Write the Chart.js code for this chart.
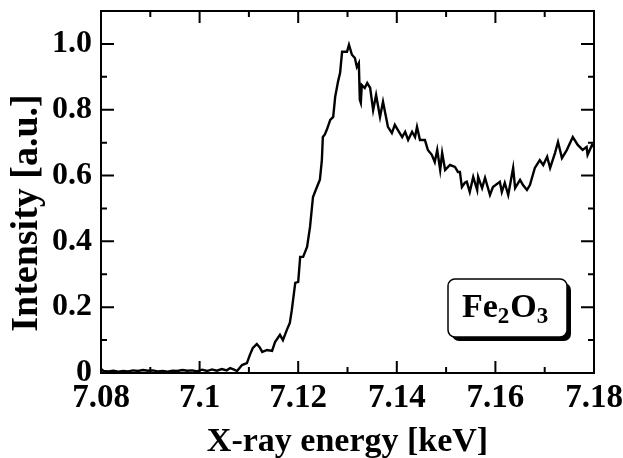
<!DOCTYPE html>
<html><head><meta charset="utf-8">
<script src="https://cdn.jsdelivr.net/npm/chart.js@4.4.1/dist/chart.umd.min.js"></script>
<style>html,body{margin:0;padding:0;background:#fff;}</style>
</head><body>
<canvas id="c" width="623" height="458"></canvas>
<script>
// ---- data ----
const energies = [
7.0800,7.0805,7.0815,7.0825,7.0835,7.0845,7.0855,7.0865,7.0875,7.0885,7.0895,7.0905,7.0915,7.0925,7.0935,7.0945,7.0955,7.0965,7.0975,7.0985,7.0995,
7.1005,7.1015,7.1025,7.1035,7.1045,7.1055,7.1062,7.1070,7.1076,7.1086,7.1096,7.1102,7.1108,7.1116,7.1122,7.1127,7.1137,7.1147,7.1153,7.1163,7.1169,
7.1177,7.1183,7.1187,7.1194,7.1200,7.1204,7.1210,7.1218,7.1224,7.1230,7.1238,7.1244,7.1248,7.1250,7.1254,7.1258,7.1265,7.1271,7.1275,7.1281,7.1285,
7.1289,7.1295,7.1299,7.1303,7.1309,7.1315,7.1319,7.1323,7.1325,7.1327,7.1329,7.1335,7.1340,7.1346,7.1352,7.1358,7.1366,7.1372,7.1382,7.1390,7.1396,
7.1402,7.1411,7.1417,7.1423,7.1431,7.1437,7.1441,7.1447,7.1457,7.1463,7.1471,7.1477,7.1482,7.1488,7.1492,7.1498,7.1508,7.1518,7.1524,7.1528,7.1532,
7.1538,7.1542,7.1548,7.1555,7.1563,7.1565,7.1573,7.1579,7.1589,7.1595,7.1609,7.1613,7.1619,7.1626,7.1636,7.1640,7.1650,7.1656,7.1664,7.1670,7.1680,
7.1690,7.1697,7.1705,7.1711,7.1721,7.1727,7.1735,7.1745,7.1757,7.1767,7.1777,7.1785,7.1787,7.1796,7.1800
];
const intensities = [
0.012,0.006,0.005,0.007,0.004,0.006,0.005,0.008,0.006,0.009,0.007,0.008,0.005,0.006,0.004,0.007,0.006,0.009,0.007,0.008,0.005,
0.010,0.006,0.011,0.007,0.012,0.008,0.015,0.010,0.006,0.024,0.030,0.055,0.076,0.088,0.078,0.064,0.070,0.067,0.094,0.116,0.100,
0.131,0.152,0.191,0.274,0.277,0.353,0.353,0.383,0.444,0.535,0.565,0.587,0.647,0.717,0.725,0.739,0.769,0.778,0.839,0.887,0.912,
0.976,0.976,0.976,0.997,0.967,0.957,0.930,0.942,0.830,0.821,0.875,0.866,0.881,0.866,0.799,0.845,0.778,0.824,0.748,0.729,0.754,
0.739,0.717,0.733,0.708,0.733,0.717,0.748,0.708,0.708,0.678,0.663,0.641,0.678,0.617,0.669,0.617,0.632,0.626,0.611,0.611,0.565,
0.578,0.581,0.550,0.596,0.556,0.596,0.562,0.593,0.541,0.565,0.581,0.550,0.578,0.541,0.623,0.562,0.587,0.571,0.556,0.571,0.623,
0.647,0.632,0.657,0.623,0.669,0.702,0.653,0.678,0.717,0.693,0.678,0.687,0.663,0.693,0.687
];
const xTickValues = [7.08, 7.10, 7.12, 7.14, 7.16, 7.18];
const xTickLabels = ['7.08', '7.1', '7.12', '7.14', '7.16', '7.18'];
const xMinorValues = [7.09, 7.11, 7.13, 7.15, 7.17];
const yTickValues = [0, 0.2, 0.4, 0.6, 0.8, 1.0];
const yTickLabels = ['0', '0.2', '0.4', '0.6', '0.8', '1.0'];
const yMinorValues = [0.1, 0.3, 0.5, 0.7, 0.9];
const xTitle = 'X-ray energy [keV]';
const yTitle = 'Intensity [a.u.]';
const sampleParts = [['Fe', false], ['2', true], ['O', false], ['3', true]];

const SERIF = '"Liberation Serif", "Times New Roman", serif';

const framePlugin = {
  id: 'frame',
  afterDatasetsDraw(chart) {
    const {ctx, chartArea: a, scales: {x, y}} = chart;
    ctx.save();
    ctx.strokeStyle = '#000';
    ctx.lineWidth = 2;
    ctx.strokeRect(a.left, a.top, a.right - a.left, a.bottom - a.top);
    ctx.beginPath();
    xTickValues.forEach(v => { const p = x.getPixelForValue(v);
      ctx.moveTo(p, a.bottom); ctx.lineTo(p, a.bottom - 12);
      ctx.moveTo(p, a.top); ctx.lineTo(p, a.top + 12); });
    xMinorValues.forEach(v => { const p = x.getPixelForValue(v);
      ctx.moveTo(p, a.bottom); ctx.lineTo(p, a.bottom - 6);
      ctx.moveTo(p, a.top); ctx.lineTo(p, a.top + 6); });
    yTickValues.forEach(v => { const p = y.getPixelForValue(v);
      ctx.moveTo(a.left, p); ctx.lineTo(a.left + 13, p);
      ctx.moveTo(a.right, p); ctx.lineTo(a.right - 13, p); });
    yMinorValues.forEach(v => { const p = y.getPixelForValue(v);
      ctx.moveTo(a.left, p); ctx.lineTo(a.left + 6, p);
      ctx.moveTo(a.right, p); ctx.lineTo(a.right - 6, p); });
    ctx.stroke();

    // y title
    ctx.fillStyle = '#000';
    ctx.save();
    ctx.translate(27, a.top + 202);
    ctx.rotate(-Math.PI / 2);
    ctx.font = 'bold 38px ' + SERIF;
    ctx.textAlign = 'center';
    ctx.textBaseline = 'middle';
    ctx.fillText(yTitle, 0, 0);
    ctx.restore();

    // sample label box
    const bx = a.right - 146, by = a.top + 268, bw = 119, bh = 58;
    ctx.fillStyle = '#000';
    ctx.beginPath(); ctx.roundRect(bx + 4, by + 4, bw, bh, 7); ctx.fill();
    ctx.fillStyle = '#fff';
    ctx.beginPath(); ctx.roundRect(bx, by, bw, bh, 7); ctx.fill();
    ctx.lineWidth = 1.5; ctx.strokeStyle = '#000'; ctx.stroke();
    ctx.fillStyle = '#000';
    ctx.textBaseline = 'alphabetic';
    ctx.textAlign = 'left';
    let tx = bx + 14;
    const base = by + 38;
    sampleParts.forEach(([t, sub]) => {
      ctx.font = 'bold ' + (sub ? 23 : 34) + 'px ' + SERIF;
      ctx.fillText(t, tx, sub ? base + 6 : base);
      tx += ctx.measureText(t).width + (sub ? 1 : 0);
    });
    ctx.restore();
  }
};

new Chart(document.getElementById('c'), {
  type: 'line',
  data: {
    datasets: [{
      data: energies.map((e, i) => ({x: e, y: intensities[i]})),
      borderColor: '#000',
      borderWidth: 2.4,
      pointRadius: 0,
      tension: 0,
      fill: false
    }]
  },
  options: {
    responsive: false,
    animation: false,
    devicePixelRatio: 1,
    layout: {padding: {top: 11, right: 29, left: 0, bottom: 0}},
    plugins: {legend: {display: false}, tooltip: {enabled: false}},
    scales: {
      x: {
        type: 'linear', min: 7.08, max: 7.18,
        grid: {display: false, drawTicks: false},
        border: {display: false},
        afterBuildTicks: s => { s.ticks = xTickValues.map(v => ({value: v})); },
        afterFit: s => { s.height = 85; s.paddingLeft = 0; s.paddingRight = 0; },
        ticks: {
          color: '#000', padding: 6, maxRotation: 0, autoSkip: false,
          font: {family: SERIF, size: 33, weight: 'bold'},
          callback: (v, i) => xTickLabels[i]
        },
        title: {display: true, text: xTitle, color: '#000', padding: {top: 0, bottom: -5},
          font: {family: SERIF, size: 34, weight: 'bold'}}
      },
      y: {
        type: 'linear', min: 0, max: 1.1,
        grid: {display: false, drawTicks: false},
        border: {display: false},
        afterBuildTicks: s => { s.ticks = yTickValues.map(v => ({value: v})); },
        afterFit: s => { s.width = 101; s.paddingTop = 0; s.paddingBottom = 0; },
        ticks: {
          color: '#000', padding: 9, autoSkip: false,
          font: {family: SERIF, size: 32, weight: 'bold'},
          callback: (v, i) => yTickLabels[i]
        }
      }
    }
  },
  plugins: [framePlugin]
});
</script>
</body></html>
